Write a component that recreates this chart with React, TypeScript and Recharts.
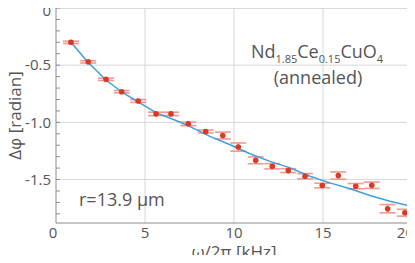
import {
  ErrorBar,
  ReferenceLine,
  Scatter,
  ScatterChart,
  XAxis,
  YAxis,
} from "recharts";

// measured points (kHz, radian) with y error
const freqs = [
  0.84, 1.81, 2.81, 3.69, 4.62, 5.62, 6.46, 7.43, 8.41, 9.37, 10.24, 11.22,
  12.15, 13.05, 13.99, 14.96, 15.86, 16.84, 17.74, 18.63, 19.6,
];
const phases = [
  -0.3, -0.471, -0.624, -0.732, -0.813, -0.926, -0.926, -1.013, -1.08, -1.115,
  -1.216, -1.332, -1.384, -1.422, -1.471, -1.552, -1.465, -1.558, -1.55,
  -1.755, -1.79,
];
const errs = [
  0.01, 0.01, 0.01, 0.01, 0.012, 0.015, 0.015, 0.015, 0.013, 0.03, 0.036, 0.03,
  0.023, 0.017, 0.023, 0.02, 0.032, 0.023, 0.028, 0.036, 0.03,
];

// fitted curve
const fitX = [
  0.84, 1.81, 2.81, 3.75, 4.68, 5.62, 6.74, 7.53, 8.65, 9.78, 10.9, 12.02,
  13.15, 14.27, 15.39, 16.52, 17.64, 18.76, 20,
];
const fitY = [
  -0.3, -0.477, -0.63, -0.741, -0.828, -0.915, -0.984, -1.037, -1.123, -1.196,
  -1.274, -1.341, -1.398, -1.471, -1.529, -1.581, -1.639, -1.689, -1.735,
];

const xTicks = [0, 5, 10, 15, 20];
const yTicks = Array.from({ length: 19 }, (_, i) => -i / 10);

const points = freqs.map((f, i) => ({ x: f, y: phases[i], e: errs[i] }));
const fit = fitX.map((f, i) => ({ x: f, y: fitY[i] }));

const FONT = "'Open Sans', sans-serif";
const TEXT = "#555";
const AXIS = "#8c8c8c";
const GRID = "#d6d6d6";

function isMajor(v: number) {
  return Math.abs(v * 2 - Math.round(v * 2)) < 1e-6;
}

function LeftTick(props: any) {
  const { x, y, payload } = props;
  const v = payload.value as number;
  return (
    <g>
      <line x1={x + 4} x2={x + 8} y1={y} y2={y} stroke={AXIS} />
      {isMajor(v) ? (
        <text
          x={x - 1}
          y={v === 0 ? y + 3 : y}
          dy="0.35em"
          textAnchor="end"
          fill={TEXT}
          fontSize={15}
          fontFamily={FONT}
        >
          {v === 0 ? "0" : v.toFixed(1)}
        </text>
      ) : null}
    </g>
  );
}

function RightTick(props: any) {
  const { x, y } = props;
  return <line x1={x - 4} x2={x} y1={y} y2={y} stroke={AXIS} />;
}

function BottomTick(props: any) {
  const { x, y, payload } = props;
  const v = payload.value as number;
  const last = v === 20;
  const first = v === 0;
  return (
    <text
      x={last ? x + 2 : first ? x - 3 : x}
      y={y}
      dy="0.71em"
      textAnchor={last ? "end" : "middle"}
      fill={TEXT}
      fontSize={15}
      fontFamily={FONT}
    >
      {v}
    </text>
  );
}

function Dot(props: any) {
  return <circle cx={props.cx} cy={props.cy} r={2.8} fill="#d83a26" />;
}

export default function App() {
  return (
    <div style={{ margin: -8, width: 415, height: 263, position: "relative" }}>
      <ScatterChart
        width={415}
        height={263}
        margin={{ top: 8, right: 0, bottom: 0, left: 0 }}
      >
        <XAxis
          type="number"
          dataKey="x"
          domain={[0, 20]}
          ticks={xTicks}
          allowDataOverflow
          interval={0}
          tickLine={false}
          tickSize={0}
          tickMargin={4}
          height={40}
          stroke={AXIS}
          tick={<BottomTick />}
          label={{
            value: "ω/2π [kHz]",
            position: "insideBottom",
            offset: 5,
            fill: TEXT,
            fontSize: 17,
            fontFamily: FONT,
          }}
        />
        <YAxis
          yAxisId="l"
          type="number"
          dataKey="y"
          domain={[-1.88, 0]}
          ticks={yTicks}
          allowDataOverflow
          interval={0}
          tickLine={false}
          tickSize={0}
          tickMargin={4}
          width={56}
          stroke={AXIS}
          tick={<LeftTick />}
          label={{
            value: "Δφ [radian]",
            angle: -90,
            position: "insideLeft",
            offset: 15,
            fill: TEXT,
            fontSize: 17,
            fontFamily: FONT,
            style: { textAnchor: "middle" },
          }}
        />
        <YAxis
          yAxisId="r"
          orientation="right"
          type="number"
          dataKey="y"
          domain={[-1.88, 0]}
          ticks={yTicks}
          allowDataOverflow
          interval={0}
          tickLine={false}
          tickSize={0}
          tickMargin={0}
          width={3}
          stroke="#b5b5b5"
          tick={<RightTick />}
        />
        {[-0.5, -1, -1.5].map((v) => (
          <ReferenceLine key={v} yAxisId="l" y={v} stroke={GRID} />
        ))}
        <ReferenceLine yAxisId="l" y={0} stroke="#b5b5b5" />
        {[5, 10, 15].map((v) => (
          <ReferenceLine key={v} yAxisId="l" x={v} stroke={GRID} />
        ))}
        <Scatter
          yAxisId="r"
          data={fit}
          line={{ stroke: "#3d9ede", strokeWidth: 1.5 }}
          shape={() => null}
          isAnimationActive={false}
        />
        <Scatter
          yAxisId="l"
          data={points}
          shape={<Dot />}
          isAnimationActive={false}
        >
          <ErrorBar
            dataKey="e"
            direction="y"
            width={8}
            stroke="#f09a8e"
            strokeWidth={1.6}
          />
        </Scatter>
      </ScatterChart>
      <svg
        width={415}
        height={263}
        style={{ position: "absolute", left: 0, top: 0, pointerEvents: "none" }}
      >
        <text x={317} y={58} textAnchor="middle" fill={TEXT} fontSize={18} fontFamily={FONT}>
          Nd<tspan fontSize={11} dy={5}>1.85</tspan>
          <tspan dy={-5}>Ce</tspan>
          <tspan fontSize={11} dy={5}>0.15</tspan>
          <tspan dy={-5}>CuO</tspan>
          <tspan fontSize={11} dy={5}>4</tspan>
        </text>
        <text x={318} y={84} textAnchor="middle" fill={TEXT} fontSize={18} fontFamily={FONT}>
          (annealed)
        </text>
        <text x={79} y={206} fill={TEXT} fontSize={18} fontFamily={FONT}>
          r=13.9 µm
        </text>
      </svg>
    </div>
  );
}
